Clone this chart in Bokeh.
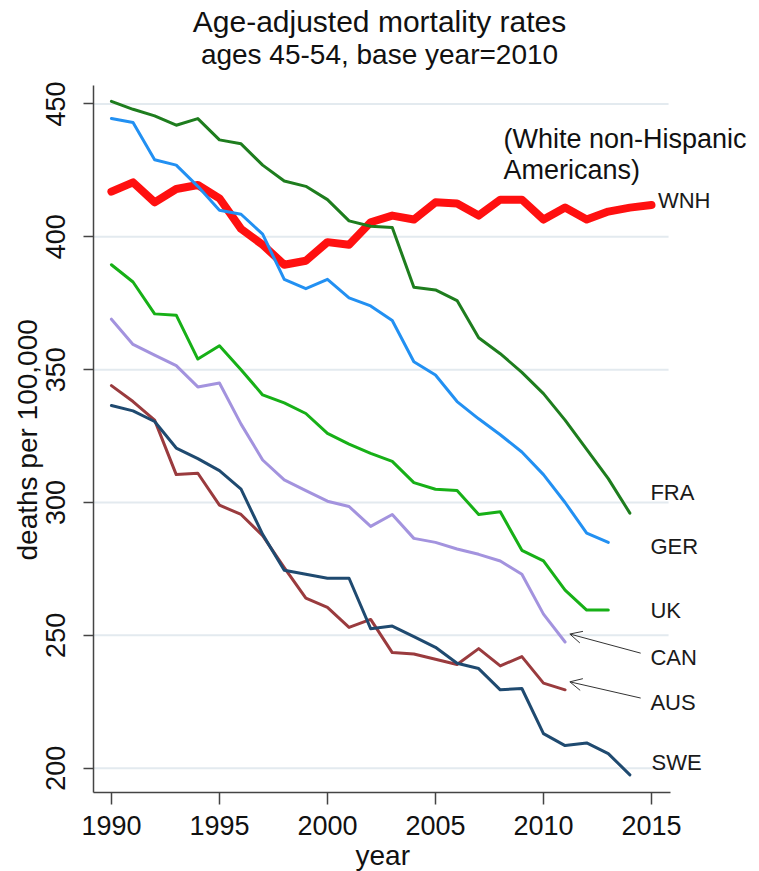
from bokeh.plotting import figure
from bokeh.models import Range1d, Title, Label, Arrow, OpenHead, FixedTicker
from bokeh.embed import file_html
from bokeh.resources import INLINE

# ---------------- data ----------------
x_ticks = [1990, 1995, 2000, 2005, 2010, 2015]
y_ticks = [200, 250, 300, 350, 400, 450]

years_wnh = list(range(1990, 2016))
wnh = [417, 420.5, 413, 418, 419.5, 414.5, 403, 397, 389.5, 391, 398, 397, 405.5,
       408, 406.5, 413, 412.5, 408, 414, 414, 406.5, 411, 406.5, 409.5, 411, 412]

years_fra = list(range(1990, 2015))
fra = [451, 448, 445.5, 442, 444.5, 436.5, 435, 427, 421, 419, 414, 406, 404,
       403.5, 381, 380, 376, 362, 356, 349, 341, 331, 320, 309, 296]

years_ger = list(range(1990, 2014))
ger = [444.5, 443, 429, 427, 419, 410, 408.5, 401, 384, 380.5, 384, 377, 374,
       368.5, 353, 348, 338, 331.5, 325.5, 319, 310.5, 300, 288.5, 285]

years_uk = list(range(1990, 2014))
uk = [389.5, 383, 371, 370.5, 354, 359, 350, 340.5, 337.5, 333.5, 326, 322, 318.5,
      315.5, 307.5, 305, 304.5, 295.5, 296.5, 282, 278, 267, 259.5, 259.5]

years_can = list(range(1990, 2012))
can = [369, 359.5, 355.5, 351.5, 343.5, 345, 329.5, 316, 308.5, 304.5, 300.5, 298.5,
       291, 295.5, 286.5, 285, 282.5, 280.5, 278, 273, 258, 247.5]

years_aus = list(range(1990, 2012))
aus = [344, 338, 331, 310.5, 311, 299, 295.5, 287.5, 275.5, 264, 260.5, 253, 256,
       243.5, 243, 241, 239, 245, 238.5, 242, 232, 229.5]

years_swe = list(range(1990, 2015))
swe = [336.5, 334.5, 330.5, 320.5, 316.5, 312, 305, 288, 274.5, 273, 271.5, 271.5,
       252.5, 253.5, 249.5, 245.5, 239.5, 237.5, 229.5, 230, 213, 208.5, 209.5, 205.5, 197.5]

names = ["WNH", "FRA", "GER", "UK", "CAN", "AUS", "SWE"]

# label placement (positions, kept apart from the data)
label_x = [2015.3, 2014.95, 2014.95, 2014.95, 2014.95, 2014.95, 2015.0]
label_y = [413.7, 303.9, 283.5, 259.4, 241.8, 224.9, 202.3]

title_text = "Age-adjusted mortality rates"
subtitle_text = "ages 45-54, base year=2010"

FONT = "Liberation Sans"

series = [
    (years_wnh, wnh, "#ff1010", 8),
    (years_fra, fra, "#1e7d1e", 3),
    (years_ger, ger, "#2290f2", 3),
    (years_uk, uk, "#17b017", 3),
    (years_can, can, "#a393de", 3),
    (years_aus, aus, "#9a3b3e", 3),
    (years_swe, swe, "#1f4a70", 3),
]

X_LO, X_AXIS_HI, X_GRID_HI, X_HI = 1989.17, 2015.88, 2015.79, 2020.0
Y_LO, Y_AXIS_HI, Y_HI = 190.85, 456.96, 488.95
X_MID = 2002.41

p = figure(width=759, height=871,
           x_range=Range1d(X_LO, X_HI), y_range=Range1d(Y_LO, Y_HI),
           output_backend="svg", toolbar_location=None,
           min_border_left=93, min_border_right=0, min_border_top=0, min_border_bottom=79)
p.outline_line_color = None
p.background_fill_color = "white"
p.border_fill_color = "white"

# axes
for ax in (p.xaxis[0], p.yaxis[0]):
    ax.axis_line_color = "#444444"
    ax.axis_line_width = 1.5
    ax.major_tick_line_color = "#444444"
    ax.major_tick_line_width = 1.5
    ax.major_tick_in = 0
    ax.minor_tick_line_color = None
    ax.major_label_text_font = FONT
    ax.major_label_text_color = "#111111"

p.xaxis.bounds = (X_LO, X_AXIS_HI)
p.xaxis.ticker = FixedTicker(ticks=x_ticks)
p.xaxis.major_tick_out = 12
p.xaxis.major_label_text_font_size = "27px"
p.xaxis.major_label_standoff = 11

p.yaxis.bounds = (Y_LO, Y_AXIS_HI)
p.yaxis.ticker = FixedTicker(ticks=y_ticks)
p.yaxis.major_tick_out = 10
p.yaxis.major_label_orientation = "vertical"
p.yaxis.major_label_text_font_size = "27px"
p.yaxis.major_label_standoff = 18

# axis titles, centred on the bounded axes
xlab = Title(text="year", align="left", offset=262, text_font=FONT,
             text_font_size="28px", text_font_style="normal",
             text_color="#111111", standoff=0)
p.add_layout(xlab, "below")
ylab = Title(text="deaths per 100,000", align="left", offset=232, text_font=FONT,
             text_font_size="28px", text_font_style="normal",
             text_color="#111111", standoff=2)
p.add_layout(ylab, "left")

# chart title and subtitle
p.add_layout(Label(x=X_MID, y=481.0, text=title_text, text_font=FONT,
                   text_font_size="30px", text_color="#111111",
                   text_align="center", text_baseline="alphabetic"))
p.add_layout(Label(x=X_MID, y=468.6, text=subtitle_text, text_font=FONT,
                   text_font_size="28px", text_color="#111111",
                   text_align="center", text_baseline="alphabetic"))

# horizontal grid lines at the y ticks, ending where the x axis ends
p.xgrid.visible = False
p.ygrid.visible = False
p.segment(x0=[X_LO] * len(y_ticks), y0=y_ticks, x1=[X_GRID_HI] * len(y_ticks), y1=y_ticks,
          line_color="#e3eaef", line_width=2)

for xs, ys, col, lw in series:
    p.line(xs, ys, line_color=col, line_width=lw, line_join="round", line_cap="round")

for name, lx, ly in zip(names, label_x, label_y):
    p.add_layout(Label(x=lx, y=ly, text=name, text_font=FONT, text_font_size="22px",
                       text_color="#1a1a1a", text_baseline="middle", text_align="left"))

p.add_layout(Label(x=2008.15, y=437.0, text="(White non-Hispanic", text_font=FONT,
                   text_font_size="27px", text_color="#111111", text_baseline="middle"))
p.add_layout(Label(x=2008.15, y=425.0, text="Americans)", text_font=FONT,
                   text_font_size="27px", text_color="#111111", text_baseline="middle"))

# arrows from CAN and AUS labels to their line ends
for nm, xs, ys in (("CAN", years_can, can), ("AUS", years_aus, aus)):
    i = names.index(nm)
    p.add_layout(Arrow(end=OpenHead(size=12, line_width=1, line_color="#333333"),
                       x_start=label_x[i] - 0.45, y_start=label_y[i] + 1.5,
                       x_end=xs[-1] + 0.22, y_end=ys[-1] + 3.0,
                       line_width=1, line_color="#333333"))

open("out.html", "w").write(file_html(p, INLINE))
